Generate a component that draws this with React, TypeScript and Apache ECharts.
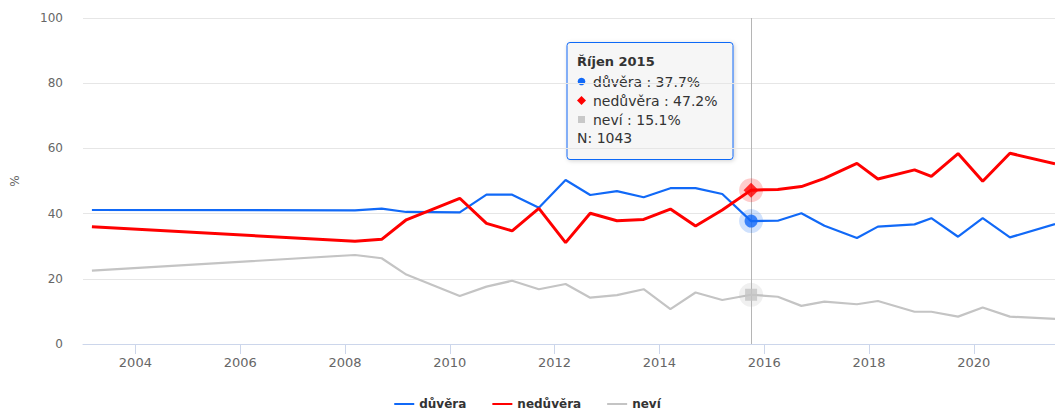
import React, { useEffect, useRef } from "react";
import * as echarts from "echarts";

// Survey dates as decimal years
const years = [2003.17, 2008.19, 2008.7, 2009.17, 2010.19, 2010.7, 2011.19, 2011.7, 2012.21, 2012.68, 2013.19, 2013.7, 2014.21, 2014.69, 2015.2, 2015.75, 2016.26, 2016.71, 2017.15, 2017.77, 2018.17, 2018.87, 2019.19, 2019.7, 2020.17, 2020.69, 2021.55];
const duvera = [41.1, 41.0, 41.5, 40.5, 40.4, 45.8, 45.8, 41.8, 50.3, 45.7, 46.9, 45.0, 47.8, 47.8, 46.0, 37.7, 37.8, 40.1, 36.3, 32.5, 36.0, 36.7, 38.6, 32.9, 38.6, 32.7, 36.8];
const neduvera = [36.0, 31.5, 32.1, 38.1, 44.7, 37.0, 34.7, 41.6, 31.1, 40.1, 37.8, 38.2, 41.4, 36.2, 41.1, 47.2, 47.4, 48.3, 50.8, 55.4, 50.6, 53.4, 51.4, 58.4, 49.9, 58.5, 55.3];
const nevi = [22.5, 27.3, 26.3, 21.3, 14.7, 17.6, 19.4, 16.8, 18.4, 14.2, 15.0, 16.8, 10.7, 15.8, 13.5, 15.1, 14.5, 11.7, 13.0, 12.2, 13.2, 9.9, 9.9, 8.4, 11.2, 8.4, 7.7];
const seriesNames = ["důvěra", "nedůvěra", "neví"];
const xTickLabels = [2004, 2006, 2008, 2010, 2012, 2014, 2016, 2018, 2020];
const yTicks = [0, 20, 40, 60, 80, 100];

// hovered point (tooltip)
const hoverIndex = 15;
const hoverTitle = "Říjen 2015";
const hoverN = 1043;

const COLORS = ["#1169f7", "#ff0000", "#c4c4c4"];
const HALOS = ["rgba(17,105,247,0.25)", "rgba(255,0,0,0.25)", "rgba(180,180,180,0.25)"];
const FONT = "DejaVu Sans";

export default function App() {
  const ref = useRef<HTMLDivElement>(null);

  useEffect(() => {
    if (!ref.current) return;
    const chart = echarts.init(ref.current, undefined, { renderer: "svg" });
    const values = [duvera, neduvera, nevi];
    const symbols = ["circle", "diamond", "rect"];
    const symSizes = [13, 15, 12];

    const lineSeries = values.map((vals, i) => ({
      name: seriesNames[i],
      type: "line",
      data: years.map((x, j) => [x, vals[j]]),
      showSymbol: false,
      symbol: "none",
      lineStyle: { color: COLORS[i], width: i === 1 ? 3 : 2.2 },
      itemStyle: { color: COLORS[i] },
      z: 3 + (i === 2 ? 0 : i),
      markLine:
        i === 0
          ? {
              silent: true,
              symbol: "none",
              label: { show: false },
              lineStyle: { color: "#b5b5b5", width: 1, type: "solid" },
              data: [{ xAxis: years[hoverIndex] }],
              z: 1,
            }
          : undefined,
    }));

    const haloSeries = {
      name: "halo",
      type: "scatter",
      silent: true,
      z: 10,
      data: values.map((vals, i) => ({
        value: [years[hoverIndex], vals[hoverIndex]],
        symbol: "circle",
        symbolSize: 24,
        itemStyle: { color: HALOS[i] },
      })),
    };
    const markerSeries = {
      name: "marker",
      type: "scatter",
      silent: true,
      z: 11,
      data: values.map((vals, i) => ({
        value: [years[hoverIndex], vals[hoverIndex]],
        symbol: symbols[i],
        symbolSize: symSizes[i],
        itemStyle: { color: COLORS[i] },
      })),
    };

    // tooltip box (static)
    const tx = 567;
    const ty = 42.5;
    const rowY = [81.5, 100.5, 119.5];
    const tipChildren: any[] = [
      {
        type: "rect",
        shape: { x: tx, y: ty, width: 166, height: 117, r: 3 },
        style: {
          fill: "rgba(247,247,247,0.95)",
          stroke: COLORS[0],
          lineWidth: 1,
          shadowBlur: 4,
          shadowOffsetX: 1,
          shadowOffsetY: 1,
          shadowColor: "rgba(0,0,0,0.18)",
        },
      },
      {
        type: "text",
        x: tx + 10,
        y: 61.5,
        style: {
          text: hoverTitle,
          font: `bold 13px '${FONT}'`,
          fill: "#333",
          verticalAlign: "middle",
        },
      },
    ];
    values.forEach((vals, i) => {
      const cx = 581.5;
      const cy = rowY[i];
      if (i === 0) {
        tipChildren.push({ type: "circle", shape: { cx, cy, r: 3.8 }, style: { fill: COLORS[0] } });
      } else if (i === 1) {
        tipChildren.push({
          type: "polygon",
          shape: { points: [[cx, cy - 4.5], [cx + 4.5, cy], [cx, cy + 4.5], [cx - 4.5, cy]] },
          style: { fill: COLORS[1] },
        });
      } else {
        tipChildren.push({
          type: "rect",
          shape: { x: cx - 3.5, y: cy - 3.5, width: 7, height: 7 },
          style: { fill: "#c8c8c8" },
        });
      }
      tipChildren.push({
        type: "text",
        x: 593,
        y: cy,
        style: {
          text: `${seriesNames[i]} : ${vals[hoverIndex].toFixed(1)}%`,
          font: `14px '${FONT}'`,
          fill: "#333",
          verticalAlign: "middle",
        },
      });
    });
    tipChildren.push({
      type: "text",
      x: tx + 10,
      y: 137.5,
      style: {
        text: `N: ${hoverN}`,
        font: `14px '${FONT}'`,
        fill: "#333",
        verticalAlign: "middle",
      },
    });

    chart.setOption({
      animation: false,
      backgroundColor: "#ffffff",
      textStyle: { fontFamily: FONT },
      grid: { left: 83, right: 0, top: 18, bottom: 68, containLabel: false },
      legend: {
        data: seriesNames,
        top: 393,
        left: "center",
        icon: "rect",
        itemWidth: 20,
        itemHeight: 2,
        itemGap: 26,
        textStyle: { fontFamily: FONT, fontSize: 12, fontWeight: "bold", color: "#333" },
      },
      xAxis: {
        type: "value",
        min: 2003,
        max: 2021.55,
        splitLine: { show: false },
        axisLine: { show: true, lineStyle: { color: "#ccd6eb", width: 1 } },
        axisTick: { show: true, length: 10, lineStyle: { color: "#ccd6eb" }, customValues: xTickLabels },
        axisLabel: {
          customValues: xTickLabels,
          formatter: (v: number) => String(Math.round(v)),
          color: "#666",
          fontSize: 13,
          fontFamily: FONT,
          margin: 12,
        },
      },
      yAxis: {
        type: "value",
        min: yTicks[0],
        max: yTicks[yTicks.length - 1],
        interval: 20,
        name: "%",
        nameLocation: "middle",
        nameRotate: 90,
        nameGap: 62,
        nameTextStyle: { color: "#666", fontSize: 12, fontFamily: FONT },
        axisLine: { show: false },
        axisTick: { show: false },
        splitLine: { lineStyle: { color: "#e6e6e6", width: 1 } },
        axisLabel: { color: "#666", fontSize: 12, fontFamily: FONT, margin: 20 },
      },
      series: [...lineSeries, haloSeries, markerSeries],
      graphic: [{ type: "group", z: 100, children: tipChildren }],
    });
    return () => chart.dispose();
  }, []);

  return (
    <div
      ref={ref}
      style={{ position: "absolute", left: 0, top: 0, width: 1055, height: 412 }}
    />
  );
}
